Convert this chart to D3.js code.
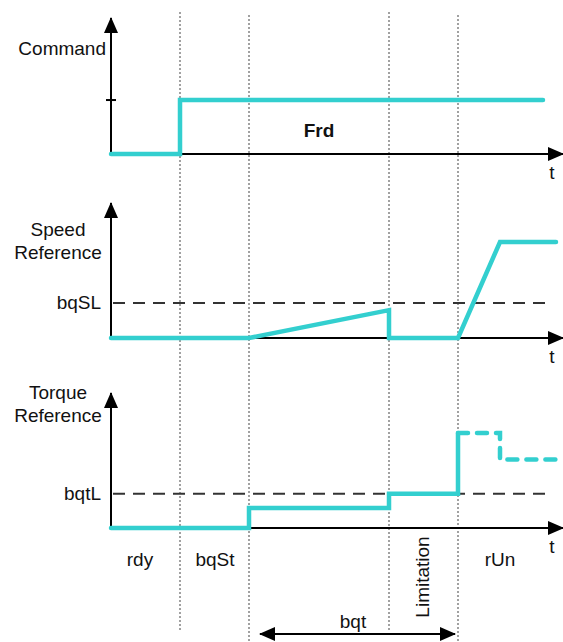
<!DOCTYPE html>
<html>
<head>
<style>
body { margin: 0; background: #fff; }
text { font-family: "Liberation Sans", Arial, sans-serif; font-size: 19px; fill: #111; }
.axis { stroke: #000; stroke-width: 2; fill: none; }
.sig { stroke: #33cfcf; stroke-width: 4.5; fill: none; stroke-linejoin: miter; stroke-linecap: round; }
.sig.dash { stroke-dasharray: 10, 9; stroke-linecap: round; }
.limit { stroke: #333; stroke-width: 2; stroke-dasharray: 12, 8; }
.event { stroke: #8a8a8a; stroke-width: 1.6; stroke-dasharray: 2, 2; }
</style>
</head>
<body>
<div id="chart"></div>
<script src="https://cdn.jsdelivr.net/npm/d3@7"></script>
<script>
var dimensions = { width: 563, height: 642 };

// time axis runs 0..45.2 (arbitrary units)
var events = [6.9, 13.8, 27.8, 34.7];
var eventTop = [12, 15, 12, 15];
var eventBottom = [630, 642, 630, 642];

var commandSeries = [[0, 0], [6.9, 0], [6.9, 1], [43.2, 1]];
var speedSeries = [[0, 0], [13.8, 0], [27.8, 0.29], [27.8, 0], [34.7, 0], [38.9, 1], [44.5, 1]];
var torqueSeries = [[0, 0], [13.8, 0], [13.8, 0.21], [27.8, 0.21], [27.8, 0.36], [34.7, 0.36], [34.7, 1]];
var torqueDashed = [[34.7, 1], [38.9, 1], [38.9, 0.72], [45.2, 0.72]];

var bqSL = 0.365;
var bqtL = 0.36;
var commandTick = 1;

var phaseLabels = [
    { name: "rdy", t: 2.9 },
    { name: "bqSt", t: 10.4 },
    { name: "rUn", t: 38.9 }
];
var bqtSpan = [14.9, 34.4];

var xscale = d3.scaleLinear().domain([0, 45.2]).range([111, 563]);

var panels = [
    { name: "command", title: ["Command"], baseline: 154, top: 18, domainTop: 2.52, titleY: 55, series: commandSeries },
    { name: "speed", title: ["Speed", "Reference"], baseline: 338, top: 203, domainTop: 1.406, titleY: 236, series: speedSeries, limit: bqSL, limitLabel: "bqSL" },
    { name: "torque", title: ["Torque", "Reference"], baseline: 528, top: 393, domainTop: 1.42, titleY: 399, series: torqueSeries, limit: bqtL, limitLabel: "bqtL" }
];

var svg = d3.select("#chart").append("svg")
    .attr("width", dimensions.width)
    .attr("height", dimensions.height);

var defs = svg.append("defs");
defs.append("marker")
    .attr("id", "arrow")
    .attr("viewBox", "0 0 16 14")
    .attr("refX", 15).attr("refY", 7)
    .attr("markerWidth", 16).attr("markerHeight", 14)
    .attr("markerUnits", "userSpaceOnUse")
    .attr("orient", "auto-start-reverse")
    .append("path")
    .attr("d", "M0,0 L16,7 L0,14 Z")
    .attr("fill", "#000");

// event lines
svg.append("g").attr("class", "events").selectAll("line")
    .data(events)
    .enter().append("line")
    .attr("class", "event")
    .attr("x1", function(d) { return xscale(d); })
    .attr("x2", function(d) { return xscale(d); })
    .attr("y1", function(d, i) { return eventTop[i]; })
    .attr("y2", function(d, i) { return eventBottom[i]; });

panels.forEach(function(p) {
    var yscale = d3.scaleLinear().domain([0, p.domainTop]).range([p.baseline, p.top]);
    var g = svg.append("g").attr("class", p.name);

    if (p.limit !== undefined) {
        g.append("line")
            .attr("class", "limit")
            .attr("x1", xscale(0) + 2).attr("x2", xscale(43.8))
            .attr("y1", yscale(p.limit)).attr("y2", yscale(p.limit));
        g.append("text")
            .attr("x", 101)
            .attr("y", yscale(p.limit) + 6)
            .attr("text-anchor", "end")
            .text(p.limitLabel);
    }

    // axes
    g.append("line")
        .attr("class", "axis")
        .attr("x1", xscale(0)).attr("x2", xscale(45.2))
        .attr("y1", yscale(0)).attr("y2", yscale(0))
        .attr("marker-end", "url(#arrow)");
    g.append("line")
        .attr("class", "axis")
        .attr("x1", xscale(0)).attr("x2", xscale(0))
        .attr("y1", yscale(0)).attr("y2", yscale(p.domainTop))
        .attr("marker-end", "url(#arrow)");
    g.append("text")
        .attr("x", 552)
        .attr("y", yscale(0) + 25)
        .attr("text-anchor", "middle")
        .text("t");

    var anchor = p.title.length > 1 ? "middle" : "end";
    var tx = p.title.length > 1 ? 58 : 106;
    g.selectAll("text.title")
        .data(p.title)
        .enter().append("text")
        .attr("class", "title")
        .attr("x", tx)
        .attr("y", function(d, i) { return p.titleY + i * 23; })
        .attr("text-anchor", anchor)
        .text(function(d) { return d; });

    var line = d3.line()
        .x(function(d) { return xscale(d[0]); })
        .y(function(d) { return yscale(d[1]); });

    g.append("path")
        .attr("class", "sig")
        .attr("d", line(p.series));

    if (p.name == "command") {
        g.append("line")
            .attr("class", "axis")
            .attr("stroke-width", 1.5)
            .attr("x1", xscale(0) - 5).attr("x2", xscale(0) + 5)
            .attr("y1", yscale(commandTick)).attr("y2", yscale(commandTick));
        g.append("text")
            .attr("x", xscale(20.8))
            .attr("y", 137)
            .attr("text-anchor", "middle")
            .attr("font-weight", "bold")
            .text("Frd");
    }
    if (p.name == "torque") {
        g.append("path")
            .attr("class", "sig dash")
            .attr("d", line(torqueDashed));
    }
});

// phase labels
svg.append("g").attr("class", "phases").selectAll("text")
    .data(phaseLabels)
    .enter().append("text")
    .attr("x", function(d) { return xscale(d.t); })
    .attr("y", 566)
    .attr("text-anchor", "middle")
    .text(function(d) { return d.name; });

svg.append("text")
    .attr("transform", "translate(" + (xscale(31.2) + 6) + ",577) rotate(-90)")
    .attr("text-anchor", "middle")
    .text("Limitation");

svg.append("line")
    .attr("class", "axis")
    .attr("x1", xscale(bqtSpan[0])).attr("x2", xscale(bqtSpan[1]))
    .attr("y1", 634).attr("y2", 634)
    .attr("marker-start", "url(#arrow)")
    .attr("marker-end", "url(#arrow)");
svg.append("text")
    .attr("x", 353)
    .attr("y", 628)
    .attr("text-anchor", "middle")
    .text("bqt");
</script>
</body>
</html>
